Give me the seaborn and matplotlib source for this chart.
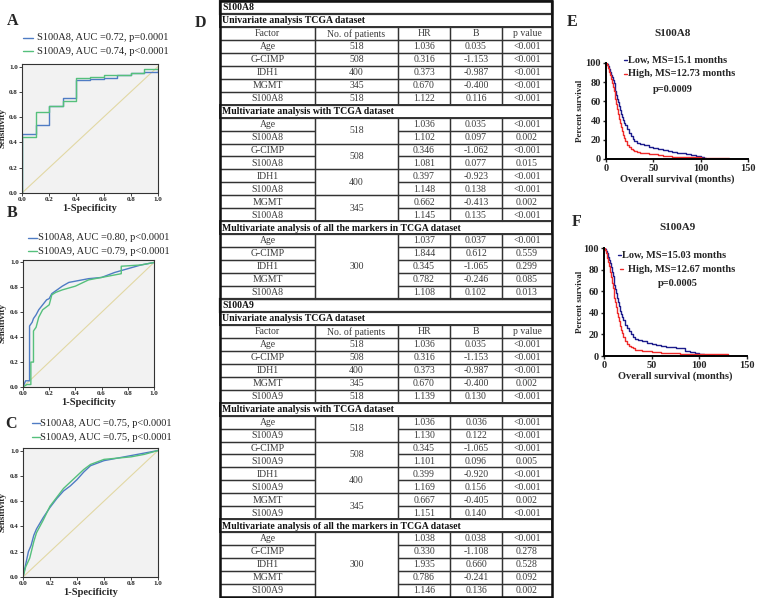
import numpy as np
import pandas as pd
import matplotlib
matplotlib.use("Agg")
import matplotlib.pyplot as plt
import seaborn as sns

# ---------------- data ----------------
# ROC panel A
a_fpr8 = [0, 0, 0.1, 0.1, 0.2, 0.2, 0.3, 0.3, 0.4, 0.4, 0.5, 0.5, 0.6, 0.6, 0.7, 0.7, 0.8, 0.8, 0.9, 0.9, 1.0, 1.0]
a_tpr8 = [0, 0.47, 0.47, 0.54, 0.54, 0.69, 0.69, 0.75, 0.75, 0.89, 0.89, 0.90, 0.90, 0.91, 0.91, 0.93, 0.93, 0.95, 0.95, 0.96, 0.96, 0.97]
a_fpr9 = [0, 0, 0.1, 0.1, 0.2, 0.2, 0.3, 0.3, 0.4, 0.4, 0.5, 0.5, 0.6, 0.6, 0.7, 0.7, 0.8, 0.8, 0.9, 0.9, 1.0, 1.0]
a_tpr9 = [0, 0.44, 0.44, 0.64, 0.64, 0.69, 0.69, 0.73, 0.73, 0.91, 0.91, 0.92, 0.92, 0.93, 0.93, 0.93, 0.93, 0.95, 0.95, 0.98, 0.98, 1.0]
# ROC panel B
b_fpr8 = [0, 0.02, 0.05, 0.05, 0.07, 0.08, 0.10, 0.12, 0.15, 0.18, 0.20, 0.22, 0.26, 0.30, 0.35, 0.40, 0.50, 0.60, 0.65, 0.70, 0.80, 0.90, 1.0]
b_tpr8 = [0, 0.05, 0.05, 0.49, 0.52, 0.55, 0.58, 0.62, 0.66, 0.70, 0.71, 0.75, 0.78, 0.81, 0.84, 0.85, 0.87, 0.88, 0.90, 0.92, 0.95, 0.98, 1.0]
b_fpr9 = [0, 0.03, 0.06, 0.06, 0.08, 0.08, 0.10, 0.12, 0.15, 0.20, 0.22, 0.25, 0.30, 0.40, 0.50, 0.60, 0.70, 0.75, 0.75, 0.90, 1.0]
b_tpr9 = [0, 0.02, 0.02, 0.20, 0.20, 0.45, 0.48, 0.56, 0.62, 0.66, 0.74, 0.76, 0.78, 0.81, 0.86, 0.88, 0.90, 0.91, 0.97, 0.98, 1.0]
# ROC panel C
c_fpr8 = [0, 0.02, 0.04, 0.06, 0.08, 0.10, 0.15, 0.20, 0.25, 0.30, 0.35, 0.40, 0.45, 0.50, 0.55, 0.60, 0.70, 0.80, 0.90, 1.0]
c_tpr8 = [0, 0.10, 0.20, 0.25, 0.33, 0.38, 0.47, 0.55, 0.62, 0.68, 0.72, 0.77, 0.83, 0.88, 0.90, 0.92, 0.94, 0.96, 0.98, 1.0]
c_fpr9 = [0, 0.02, 0.05, 0.08, 0.10, 0.15, 0.20, 0.25, 0.30, 0.35, 0.40, 0.45, 0.50, 0.55, 0.60, 0.70, 0.80, 0.90, 1.0]
c_tpr9 = [0, 0.08, 0.15, 0.28, 0.35, 0.45, 0.56, 0.63, 0.70, 0.75, 0.80, 0.85, 0.89, 0.91, 0.93, 0.94, 0.95, 0.97, 1.0]

roc_legends = {
    "A": ["S100A8, AUC =0.72, p=0.0001", "S100A9, AUC =0.74, p<0.0001"],
    "B": ["S100A8, AUC =0.80, p<0.0001", "S100A9, AUC =0.79, p<0.0001"],
    "C": ["S100A8, AUC =0.75, p<0.0001", "S100A9, AUC =0.75, p<0.0001"],
}

# Table D
header = ["Factor", "No. of patients", "HR", "B", "p value"]
a8_uni_factor = ["Age", "G-CIMP", "IDH1", "MGMT", "S100A8"]
a8_uni_n = ["518", "508", "400", "345", "518"]
a8_uni_hr = ["1.036", "0.316", "0.373", "0.670", "1.122"]
a8_uni_b = ["0.035", "-1.153", "-0.987", "-0.400", "0.116"]
a8_uni_p = ["<0.001", "<0.001", "<0.001", "<0.001", "<0.001"]
a8_mul_factor = ["Age", "S100A8", "G-CIMP", "S100A8", "IDH1", "S100A8", "MGMT", "S100A8"]
a8_mul_n = ["518", "508", "400", "345"]
a8_mul_hr = ["1.036", "1.102", "0.346", "1.081", "0.397", "1.148", "0.662", "1.145"]
a8_mul_b = ["0.035", "0.097", "-1.062", "0.077", "-0.923", "0.138", "-0.413", "0.135"]
a8_mul_p = ["<0.001", "0.002", "<0.001", "0.015", "<0.001", "<0.001", "0.002", "<0.001"]
a8_all_factor = ["Age", "G-CIMP", "IDH1", "MGMT", "S100A8"]
a8_all_n = "300"
a8_all_hr = ["1.037", "1.844", "0.345", "0.782", "1.108"]
a8_all_b = ["0.037", "0.612", "-1.065", "-0.246", "0.102"]
a8_all_p = ["<0.001", "0.559", "0.299", "0.085", "0.013"]

a9_uni_factor = ["Age", "G-CIMP", "IDH1", "MGMT", "S100A9"]
a9_uni_n = ["518", "508", "400", "345", "518"]
a9_uni_hr = ["1.036", "0.316", "0.373", "0.670", "1.139"]
a9_uni_b = ["0.035", "-1.153", "-0.987", "-0.400", "0.130"]
a9_uni_p = ["<0.001", "<0.001", "<0.001", "0.002", "<0.001"]
a9_mul_factor = ["Age", "S100A9", "G-CIMP", "S100A9", "IDH1", "S100A9", "MGMT", "S100A9"]
a9_mul_n = ["518", "508", "400", "345"]
a9_mul_hr = ["1.036", "1.130", "0.345", "1.101", "0.399", "1.169", "0.667", "1.151"]
a9_mul_b = ["0.036", "0.122", "-1.065", "0.096", "-0.920", "0.156", "-0.405", "0.140"]
a9_mul_p = ["<0.001", "<0.001", "<0.001", "0.005", "<0.001", "<0.001", "0.002", "<0.001"]
a9_all_factor = ["Age", "G-CIMP", "IDH1", "MGMT", "S100A9"]
a9_all_n = "300"
a9_all_hr = ["1.038", "0.330", "1.935", "0.786", "1.146"]
a9_all_b = ["0.038", "-1.108", "0.660", "-0.241", "0.136"]
a9_all_p = ["<0.001", "0.278", "0.528", "0.092", "0.002"]

# Kaplan-Meier E (S100A8)
e_low_t = [0, 1, 2, 3, 4, 5, 6, 7, 8, 9, 10, 11, 12, 13, 14, 15, 16, 17, 18, 19, 20, 22, 24, 26, 28, 30, 33, 36, 40, 45, 50, 55, 60, 65, 70, 75, 80, 85, 90, 95, 100, 103, 106]
e_low_s = [100, 99, 97, 94, 91, 88, 85, 82, 79, 75, 71, 67, 63, 59, 55, 51, 47, 44, 41, 38, 35, 31, 27, 24, 21, 19, 17, 16, 15, 13, 11, 10, 9, 8, 7, 6.5, 6, 5, 4, 3, 2, 1, 0.5]
e_high_t = [0, 1, 2, 3, 4, 5, 6, 7, 8, 9, 10, 11, 12, 13, 14, 15, 16, 17, 18, 19, 20, 22, 24, 26, 28, 30, 33, 36, 40, 45, 50, 55, 60, 70, 80, 90, 100, 110, 120, 130]
e_high_s = [100, 98, 95, 91, 87, 83, 79, 75, 71, 67, 62, 57, 52, 47, 42, 37, 33, 29, 25, 22, 19, 15, 12, 10, 9, 8, 7, 6.5, 6, 5.5, 5, 4, 3, 2.5, 2, 2, 1.5, 1.5, 1.5, 1]
# Kaplan-Meier F (S100A9)
f_low_t = [0, 1, 2, 3, 4, 5, 6, 7, 8, 9, 10, 11, 12, 13, 14, 15, 16, 17, 18, 19, 20, 22, 24, 26, 28, 30, 33, 36, 40, 45, 50, 55, 60, 65, 70, 75, 80, 85, 90, 95, 100, 105, 110, 115]
f_low_s = [100, 99, 97, 95, 92, 89, 86, 82, 78, 74, 70, 66, 62, 58, 54, 50, 46, 42, 39, 36, 33, 29, 26, 23, 20, 18, 16, 15, 14, 12, 11, 10, 9, 8, 8, 7, 7, 5, 4, 3, 1.5, 1, 1, 1]
f_high_t = [0, 1, 2, 3, 4, 5, 6, 7, 8, 9, 10, 11, 12, 13, 14, 15, 16, 17, 18, 19, 20, 22, 24, 26, 28, 30, 33, 36, 40, 45, 50, 60, 70, 80, 90, 100, 110, 120, 130]
f_high_s = [100, 98, 95, 91, 87, 83, 78, 73, 68, 63, 58, 54, 50, 45, 40, 36, 32, 28, 24, 21, 18, 14, 11, 9, 8, 7, 6, 6, 5, 5, 4, 3, 2.5, 2, 2, 1.5, 1.5, 1.5, 1]

# ---------------- figure ----------------
sns.set_style("white")
plt.rcParams['font.family'] = ['Liberation Serif', 'DejaVu Serif']

W, H = 758, 598
fig = plt.figure(figsize=(W / 100, H / 100), dpi=100)


def box(l, t, r, b):
    return [l / W, 1 - b / H, (r - l) / W, (b - t) / H]


bg = fig.add_axes([0, 0, 1, 1])
bg.set_xlim(0, W)
bg.set_ylim(H, 0)
bg.axis('off')

BLUE = '#4f7cc4'
GREEN = '#55c07c'


def roc_panel(bx, fpr8, tpr8, fpr9, tpr9):
    ax = fig.add_axes(box(*bx))
    ax.set_facecolor('#f2f2f2')
    sns.lineplot(x=[0, 1], y=[0, 1], ax=ax, color='#e2d8a4', lw=0.8)
    sns.lineplot(x=fpr8, y=tpr8, sort=False, estimator=None, ax=ax, color=BLUE, lw=1.0)
    sns.lineplot(x=fpr9, y=tpr9, sort=False, estimator=None, ax=ax, color=GREEN, lw=1.0)
    ax.set_xlim(0, 1)
    ax.set_ylim(0, 1.02)
    ticks = [0, 0.2, 0.4, 0.6, 0.8, 1.0]
    ax.set_xticks(ticks)
    ax.set_yticks(ticks)
    ax.set_xticklabels([f"{t:.1f}" for t in ticks], fontsize=5, fontweight='bold')
    ax.set_yticklabels([f"{t:.1f}" for t in ticks], fontsize=5, fontweight='bold')
    ax.tick_params(length=2, width=0.6, pad=1, bottom=True, left=True)
    for s in ax.spines.values():
        s.set_color('#333333')
        s.set_linewidth(0.8)
    ax.set_xlabel('1-Specificity', fontsize=7.5, fontweight='bold', labelpad=1)
    ax.set_ylabel('Sensitivity', fontsize=6.5, fontweight='bold')
    l, r = bx[0], bx[2]
    ax.yaxis.set_label_coords((7 - l) / (r - l), 0.5)
    return ax


roc_panel((22, 64, 158, 193), a_fpr8, a_tpr8, a_fpr9, a_tpr9)
roc_panel((23, 260, 154, 387), b_fpr8, b_tpr8, b_fpr9, b_tpr9)
roc_panel((23, 448, 158, 577), c_fpr8, c_tpr8, c_fpr9, c_tpr9)

# panel letters and ROC legends
for letter, (lx, ly) in {"A": (13, 21), "B": (12, 213), "C": (11, 424), "D": (200, 23), "E": (572, 22), "F": (577, 222)}.items():
    bg.text(lx, ly, letter, fontsize=11.5, fontweight='bold', ha='center', va='center')

for key, (x0, x1, tx, y1, y2) in {"A": (23, 33, 37, 38, 51), "B": (28, 37, 38, 238, 251), "C": (32, 40, 40, 423, 437)}.items():
    for yy, col, lab in [(y1, BLUE, roc_legends[key][0]), (y2, GREEN, roc_legends[key][1])]:
        bg.plot([x0, x1], [yy, yy], color=col, lw=1.0)
        bg.text(tx, yy, lab, fontsize=7.5, va='center', ha='left', color='#222222')

# ---------------- table D ----------------
cols = [220, 315, 398, 450, 502, 552]
top = 1.0
rh = (597.0 - top) / 46
TXT = '#3a3a3a'
LC = '#333333'


def ry(i):
    return top + i * rh


def cell(l, r, i0, i1, text, lw=0.9, bold=False, align='center', fs=7):
    y0, y1 = ry(i0), ry(i1)
    bg.add_patch(plt.Rectangle((l, y0), r - l, y1 - y0, fill=False, edgecolor=LC, lw=lw))
    if text:
        x = (l + r) / 2 if align == 'center' else l + 2
        bg.text(x, (y0 + y1) / 2 + 0.3, text, ha=align, va='center', fontsize=fs,
                fontweight='bold' if bold else 'normal', color='#111111' if bold else TXT)


def section(r0, title, uf, un, uhr, ub, up, mf, mn, mhr, mb, mp, af, an, ahr, ab, ap):
    cell(cols[0], cols[-1], r0, r0 + 1, title, lw=1.6, bold=True, align='left')
    cell(cols[0], cols[-1], r0 + 1, r0 + 2, "Univariate analysis TCGA dataset", lw=1.4, bold=True, align='left')
    for j, h in enumerate(header):
        cell(cols[j], cols[j + 1], r0 + 2, r0 + 3, h)
    for k in range(5):
        i = r0 + 3 + k
        for j, v in enumerate([uf[k], un[k], uhr[k], ub[k], up[k]]):
            cell(cols[j], cols[j + 1], i, i + 1, v)
    rm = r0 + 8
    cell(cols[0], cols[-1], rm, rm + 1, "Multivariate analysis with TCGA dataset", lw=1.4, bold=True, align='left')
    for k in range(8):
        i = rm + 1 + k
        for j, v in [(0, mf[k]), (2, mhr[k]), (3, mb[k]), (4, mp[k])]:
            cell(cols[j], cols[j + 1], i, i + 1, v)
    for g in range(4):
        i = rm + 1 + 2 * g
        cell(cols[1], cols[2], i, i + 2, mn[g])
    ra = r0 + 17
    cell(cols[0], cols[-1], ra, ra + 1, "Multivariate analysis of all the markers in TCGA dataset", lw=1.4, bold=True, align='left')
    for k in range(5):
        i = ra + 1 + k
        for j, v in [(0, af[k]), (2, ahr[k]), (3, ab[k]), (4, ap[k])]:
            cell(cols[j], cols[j + 1], i, i + 1, v)
    cell(cols[1], cols[2], ra + 1, ra + 6, an)


section(0, "S100A8", a8_uni_factor, a8_uni_n, a8_uni_hr, a8_uni_b, a8_uni_p,
        a8_mul_factor, a8_mul_n, a8_mul_hr, a8_mul_b, a8_mul_p,
        a8_all_factor, a8_all_n, a8_all_hr, a8_all_b, a8_all_p)
section(23, "S100A9", a9_uni_factor, a9_uni_n, a9_uni_hr, a9_uni_b, a9_uni_p,
        a9_mul_factor, a9_mul_n, a9_mul_hr, a9_mul_b, a9_mul_p,
        a9_all_factor, a9_all_n, a9_all_hr, a9_all_b, a9_all_p)
bg.add_patch(plt.Rectangle((cols[0], ry(0)), cols[-1] - cols[0], ry(46) - ry(0), fill=False, edgecolor='#111111', lw=1.8))

# ---------------- KM panels ----------------
NAVY = '#1c1c8c'
RED = '#ee2a2a'

leg_labels = {"S100A8": ["Low, MS=15.1 months", "High, MS=12.73 months"],
              "S100A9": ["Low, MS=15.03 months", "High, MS=12.67 months"]}


def km_panel(bx, lt, ls, ht, hs, title, title_xy, leg):
    ax = fig.add_axes(box(*bx))
    ax.patch.set_alpha(0)
    sns.lineplot(x=lt, y=ls, ax=ax, estimator=None, sort=False, color=NAVY, lw=1.0, drawstyle='steps-post')
    sns.lineplot(x=ht, y=hs, ax=ax, estimator=None, sort=False, color=RED, lw=1.0, drawstyle='steps-post')
    ax.set_xlim(0, 150)
    ax.set_ylim(0, 100)
    ax.set_xticks([0, 50, 100, 150])
    ax.set_yticks([0, 20, 40, 60, 80, 100])
    ax.set_xticklabels(['0', '50', '100', '150'], fontsize=7.5, fontweight='bold')
    ax.set_yticklabels(['0', '20', '40', '60', '80', '100'], fontsize=7.5, fontweight='bold')
    ax.tick_params(length=2.5, width=1.0, pad=1, bottom=True, left=True)
    for s in ['top', 'right']:
        ax.spines[s].set_visible(False)
    for s in ['left', 'bottom']:
        ax.spines[s].set_linewidth(1.4)
        ax.spines[s].set_color('black')
    ax.set_xlabel('Overall survival (months)', fontsize=7.5, fontweight='bold', labelpad=1)
    ax.set_ylabel('Percent survival', fontsize=6.5, fontweight='bold')
    l, r = bx[0], bx[2]
    ax.yaxis.set_label_coords((584 - l) / (r - l), 0.5)
    bg.text(title_xy[0], title_xy[1], title, fontsize=8, fontweight='bold', ha='center', va='center')
    (dx1, lx, ly1), (dx2, hx, ly2), (px, py, ptxt) = leg
    bg.plot([dx1, dx1 + 3], [ly1, ly1], color=NAVY, lw=1.0)
    bg.text(lx, ly1, leg_labels[title][0], fontsize=7.5, fontweight='bold', va='center', ha='left')
    bg.plot([dx2, dx2 + 3], [ly2, ly2], color=RED, lw=1.0)
    bg.text(hx, ly2, leg_labels[title][1], fontsize=7.5, fontweight='bold', va='center', ha='left')
    bg.text(px, py, ptxt, fontsize=7.5, fontweight='bold', va='center', ha='center')


km_panel((606, 63, 748, 159), e_low_t, e_low_s, e_high_t, e_high_s, "S100A8", (673, 33),
         [(624, 628, 60), (624, 628, 74), (673, 89, "p=0.0009")])
km_panel((604, 248, 747, 356), f_low_t, f_low_s, f_high_t, f_high_s, "S100A9", (678, 228),
         [(618, 622, 255), (620, 628, 269), (678, 284, "p=0.0005")])

fig.savefig("out.png", dpi=100)
